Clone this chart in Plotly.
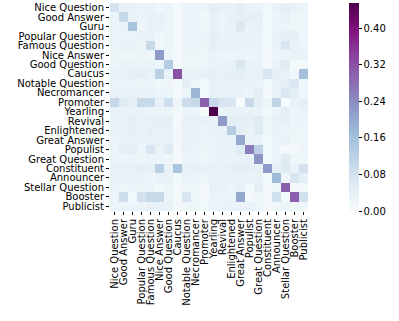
import plotly.graph_objects as go

labels = ["Nice Question", "Good Answer", "Guru", "Popular Question", "Famous Question",
          "Nice Answer", "Good Question", "Caucus", "Notable Question", "Necromancer",
          "Promoter", "Yearling", "Revival", "Enlightened", "Great Answer", "Populist",
          "Great Question", "Constituent", "Announcer", "Stellar Question", "Booster",
          "Publicist"]

# Zeilen der Matrix
r_nice_q = [0.08, 0.04, 0.04, 0.035, 0.035, 0.02, 0.03, 0.01, 0.03, 0.03, 0.03, 0.05, 0.04, 0.04, 0.05, 0.035, 0.035, 0.015, 0.035, 0.05, 0.04, 0.03]
r_good_a = [0.03, 0.10, 0.035, 0.03, 0.04, 0.04, 0.03, 0.01, 0.03, 0.03, 0.02, 0.04, 0.03, 0.04, 0.05, 0.045, 0.045, 0.015, 0.03, 0.04, 0.02, 0.02]
r_guru = [0.03, 0.035, 0.15, 0.03, 0.04, 0.04, 0.03, 0.01, 0.03, 0.03, 0.02, 0.04, 0.03, 0.035, 0.065, 0.035, 0.04, 0.015, 0.03, 0.03, 0.02, 0.02]
r_popular_q = [0.03, 0.03, 0.03, 0.04, 0.04, 0.02, 0.03, 0.01, 0.03, 0.03, 0.03, 0.05, 0.04, 0.04, 0.04, 0.035, 0.035, 0.015, 0.035, 0.05, 0.045, 0.025]
r_famous_q = [0.03, 0.035, 0.035, 0.025, 0.10, 0.02, 0.03, 0.01, 0.03, 0.03, 0.025, 0.045, 0.04, 0.04, 0.04, 0.035, 0.035, 0.015, 0.035, 0.07, 0.04, 0.025]
r_nice_a = [0.025, 0.025, 0.025, 0.025, 0.025, 0.22, 0.025, 0.01, 0.025, 0.025, 0.02, 0.035, 0.03, 0.03, 0.03, 0.03, 0.03, 0.01, 0.03, 0.03, 0.035, 0.035]
r_good_q = [0.03, 0.035, 0.035, 0.03, 0.035, 0.03, 0.13, 0.01, 0.025, 0.025, 0.02, 0.04, 0.035, 0.04, 0.07, 0.035, 0.035, 0.015, 0.035, 0.06, 0.01, 0.01]
r_caucus = [0.04, 0.04, 0.045, 0.05, 0.04, 0.12, 0.04, 0.32, 0.04, 0.035, 0.04, 0.045, 0.04, 0.045, 0.05, 0.04, 0.04, 0.07, 0.045, 0.04, 0.02, 0.16]
r_notable_q = [0.03, 0.03, 0.03, 0.025, 0.03, 0.02, 0.025, 0.01, 0.05, 0.025, 0.015, 0.04, 0.035, 0.035, 0.04, 0.035, 0.03, 0.015, 0.035, 0.05, 0.065, 0.02]
r_necro = [0.035, 0.04, 0.04, 0.035, 0.035, 0.03, 0.03, 0.01, 0.03, 0.18, 0.015, 0.04, 0.04, 0.04, 0.035, 0.03, 0.05, 0.01, 0.035, 0.065, 0.05, 0.02]
r_promoter = [0.10, 0.06, 0.045, 0.10, 0.095, 0.04, 0.09, 0.025, 0.09, 0.10, 0.30, 0.10, 0.075, 0.07, 0.005, 0.10, 0.05, 0.03, 0.11, 0.003, 0.035, 0.045]
r_yearling = [0.035, 0.04, 0.035, 0.035, 0.03, 0.03, 0.03, 0.01, 0.03, 0.03, 0.01, 0.455, 0.035, 0.035, 0.035, 0.035, 0.03, 0.015, 0.03, 0.045, 0.03, 0.035]
r_revival = [0.04, 0.04, 0.05, 0.04, 0.04, 0.045, 0.05, 0.01, 0.04, 0.04, 0.04, 0.04, 0.22, 0.05, 0.05, 0.045, 0.06, 0.02, 0.04, 0.045, 0.03, 0.03]
r_enlight = [0.035, 0.04, 0.045, 0.035, 0.045, 0.04, 0.04, 0.01, 0.035, 0.035, 0.03, 0.035, 0.04, 0.13, 0.05, 0.035, 0.06, 0.02, 0.035, 0.03, 0.025, 0.02]
r_great_a = [0.03, 0.035, 0.04, 0.035, 0.035, 0.04, 0.04, 0.01, 0.035, 0.035, 0.03, 0.03, 0.035, 0.04, 0.20, 0.035, 0.035, 0.015, 0.03, 0.04, 0.02, 0.02]
r_populist = [0.03, 0.045, 0.05, 0.03, 0.07, 0.035, 0.06, 0.01, 0.04, 0.03, 0.025, 0.03, 0.035, 0.04, 0.06, 0.26, 0.12, 0.015, 0.03, 0.01, 0.01, 0.02]
r_great_q = [0.03, 0.03, 0.03, 0.025, 0.03, 0.03, 0.025, 0.01, 0.03, 0.03, 0.025, 0.03, 0.035, 0.035, 0.04, 0.04, 0.23, 0.015, 0.03, 0.06, 0.02, 0.02]
r_constit = [0.04, 0.04, 0.04, 0.05, 0.045, 0.12, 0.04, 0.15, 0.04, 0.04, 0.04, 0.04, 0.04, 0.045, 0.05, 0.045, 0.04, 0.22, 0.045, 0.06, 0.035, 0.08]
r_announcer = [0.035, 0.035, 0.035, 0.035, 0.03, 0.04, 0.035, 0.015, 0.035, 0.03, 0.025, 0.04, 0.04, 0.035, 0.04, 0.035, 0.035, 0.015, 0.17, 0.025, 0.07, 0.045]
r_stellar_q = [0.03, 0.02, 0.03, 0.025, 0.03, 0.01, 0.03, 0.01, 0.02, 0.02, 0.01, 0.04, 0.035, 0.03, 0.04, 0.01, 0.05, 0.01, 0.02, 0.30, 0.01, 0.01]
r_booster = [0.03, 0.09, 0.015, 0.08, 0.10, 0.10, 0.03, 0.01, 0.07, 0.02, 0.01, 0.03, 0.03, 0.03, 0.20, 0.01, 0.02, 0.01, 0.085, 0.01, 0.30, 0.085]
r_publicist = [0.03, 0.03, 0.03, 0.03, 0.04, 0.04, 0.035, 0.01, 0.02, 0.02, 0.015, 0.03, 0.035, 0.035, 0.035, 0.04, 0.03, 0.01, 0.02, 0.03, 0.025, 0.02]

z = [r_nice_q, r_good_a, r_guru, r_popular_q, r_famous_q, r_nice_a, r_good_q, r_caucus,
     r_notable_q, r_necro, r_promoter, r_yearling, r_revival, r_enlight, r_great_a,
     r_populist, r_great_q, r_constit, r_announcer, r_stellar_q, r_booster, r_publicist]

fig = go.Figure(go.Heatmap(
    z=z, x=labels, y=labels,
    colorscale="BuPu", zmin=0, zmax=0.455,
    colorbar=dict(
        x=1.155, xanchor="left", y=0.5, len=1, thickness=10, ypad=0,
        outlinewidth=0, tick0=0, dtick=0.08, tickformat=".2f",
        ticks="outside", ticklen=3, tickcolor="black",
        tickfont=dict(size=10, color="black"),
    ),
))

fig.update_xaxes(type="category", tickmode="array", tickvals=labels, ticktext=labels,
                 tickangle=-90, ticks="outside", ticklen=3, automargin=False,
                 tickcolor="black", showgrid=False, tickfont=dict(size=10, color="black"))
fig.update_yaxes(type="category", tickmode="array", tickvals=labels, ticktext=labels,
                 autorange="reversed", ticks="outside", ticklen=3, automargin=False,
                 tickcolor="black", showgrid=False, tickfont=dict(size=10, color="black"))

fig.update_layout(
    width=399, height=321,
    margin=dict(l=110, r=82, t=3, b=110),
    paper_bgcolor="white", plot_bgcolor="white",
    font=dict(family="DejaVu Sans", color="black"),
)

# Browser-Standardrand entfernen
fig.write_html("out.html", config={"displayModeBar": False},
               post_script="document.body.style.margin='0';")
